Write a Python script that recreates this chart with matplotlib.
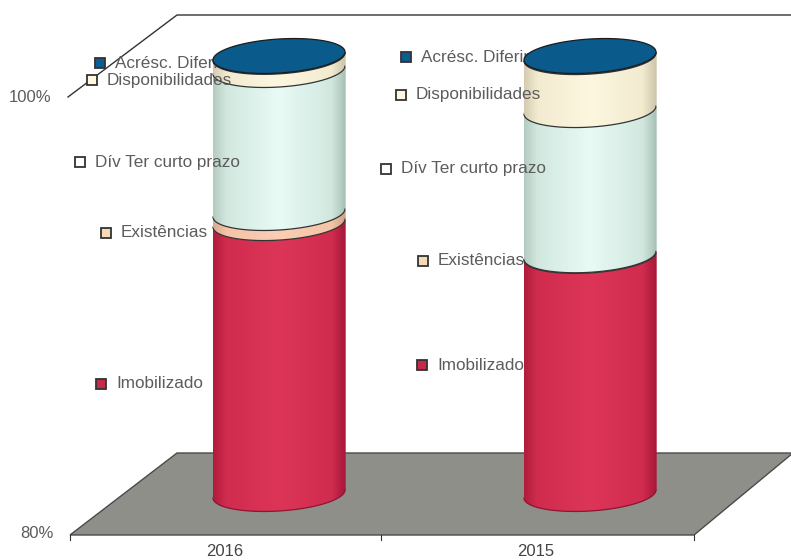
"""
Stacked cylinders, 80% to 100%, for 2016 and 2015
"""

import numpy as np
import matplotlib
matplotlib.use('Agg')
import matplotlib.pyplot as plt
from matplotlib.colors import LinearSegmentedColormap
from matplotlib.patches import Polygon

plt.rcParams['font.family'] = ['Liberation Sans', 'DejaVu Sans']

years = ['2016', '2015']
series_names = ['Imobilizado', 'Existências', 'Dív Ter curto prazo',
                'Disponibilidades', 'Acrésc. Diferim']
# Shares above the 80% baseline, percentage points
imobilizado = [12.37, 10.87]
existencias = [0.46, 0.03]
div_ter = [6.53, 6.63]
disponibilidades = [0.60, 2.42]
acresc = [0.04, 0.05]
series_values = [imobilizado, existencias, div_ter, disponibilidades, acresc]

side_colors = [
    ('#b01c3c', '#d02c4e', '#dc3558', '#d02c4e', '#a8183a'),
    ('#d8ab92', '#f4c4a8', '#fbcdb4', '#f4c4a8', '#d0a48c'),
    ('#b4cbc0', '#d2e8df', '#e8fbf5', '#d2e8df', '#a9c2b6'),
    ('#d4cbb0', '#f2ebd0', '#fdf7e0', '#f2ebd0', '#cfc6ac'),
    ('#0a4a75', '#0a5c8f', '#0a5c8f', '#0a5c8f', '#0a4a75'),
]
edge_colors = ['#8e1430', '#333333', '#333333', '#333333', '#333333']
marker_colors = ['#c8284a', '#f6d9b8', '#ffffff', '#fff8e0', '#0b5d92']

# Label positions in image pixels, per year then per series
label_pos = [
    [(97, 384), (102, 233), (76, 162), (88, 80), (96, 63)],
    [(418, 365), (419, 261), (382, 169), (397, 95), (402, 57)],
]

W, H = 791, 560
PX_X = 311.0            # pixels per category
PX_Y = 21.9             # pixels per percent
X0, Y0 = 279.0, 494.0   # pixel of first cylinder at 80%
HALF_W = 66 / PX_X
ELL_H = 17 / PX_Y
TILT = 4 / PX_Y
GREY = '#5c5c5c'


def to_data(px, py):
    return (px - X0) / PX_X, 80 + (Y0 - py) / PX_Y


def front_arc(cx, level, n=60):
    t = np.linspace(np.pi, 2 * np.pi, n)
    x = cx + HALF_W * np.cos(t)
    y = level + ELL_H * np.sin(t) + TILT * np.cos(t)
    return x, y


def draw_segment(ax, cx, low, high, colors, edge, z):
    x_low, y_low = front_arc(cx, low)
    x_high, y_high = front_arc(cx, high)
    xs = np.r_[x_low, x_high[::-1]]
    ys = np.r_[y_low, y_high[::-1]]
    patch = Polygon(np.c_[xs, ys], closed=True, fc='none', ec='none')
    ax.add_patch(patch)
    stops = list(zip((0, 0.1, 0.5, 0.9, 1), colors))
    cmap = LinearSegmentedColormap.from_list('side', stops)
    grad = np.linspace(0, 1, 256).reshape(1, -1)
    im = ax.imshow(grad, cmap=cmap, aspect='auto', zorder=z,
                   extent=(cx - HALF_W, cx + HALF_W, low - 2, high + 2))
    im.set_clip_path(patch)
    ax.plot(x_low, y_low, color=edge, lw=0.9, zorder=z + 0.1)
    ax.plot([cx - HALF_W, cx - HALF_W], [y_low[0], y_high[0]],
            color=colors[0], lw=0.5, zorder=z + 0.1)
    ax.plot([cx + HALF_W, cx + HALF_W], [y_low[-1], y_high[-1]],
            color=colors[-1], lw=0.5, zorder=z + 0.1)


def draw_top(ax, cx, level, color):
    t = np.linspace(0, 2 * np.pi, 120)
    x = cx + HALF_W * np.cos(t)
    y = level + ELL_H * np.sin(t) + TILT * np.cos(t)
    ax.fill(x, y, fc=color, ec='#1c1c1c', lw=0.9, zorder=6)


def main():
    fig = plt.figure(figsize=(W / 100, H / 100), dpi=100)
    ax = fig.add_axes([0, 0, 1, 1])
    ax.set_xlim(-X0 / PX_X, (W - X0) / PX_X)
    ax.set_ylim(80 + (Y0 - H) / PX_Y, 80 + Y0 / PX_Y)
    ax.axis('off')

    # Floor and back walls
    front_left = to_data(70, 535)
    front_right = to_data(694, 535)
    back_left = to_data(177, 453)
    back_right = to_data(793, 453)
    ax.add_patch(Polygon([front_left, front_right, back_right, back_left],
                         closed=True, fc='#8f8f8a', ec='#4a4a4a', lw=1.0, zorder=1))
    wall_low = to_data(68, 97)
    wall_mid = to_data(177, 15)
    wall_end = to_data(793, 15)
    ax.plot([wall_low[0], wall_mid[0], wall_end[0]],
            [wall_low[1], wall_mid[1], wall_end[1]],
            color='#333333', lw=1.0, zorder=1)

    # Axis ticks and labels
    for px in (70, 381, 694):
        a = to_data(px, 535)
        b = to_data(px, 540)
        ax.plot([a[0], b[0]], [a[1], b[1]], color='#333333', lw=0.8, zorder=1)
    ax.text(*to_data(37, 533), '80%', ha='center', va='center',
            fontsize=12, color=GREY)
    ax.text(*to_data(30, 97), '100%', ha='center', va='center',
            fontsize=12, color=GREY)

    # Cylinders
    for i, year in enumerate(years):
        level = 80.0
        for k, values in enumerate(series_values):
            draw_segment(ax, i, level, level + values[i], side_colors[k],
                         edge_colors[k], 3 + k * 0.2)
            level += values[i]
        draw_top(ax, i, level, '#0a5a8c')
        ax.text(*to_data(X0 + i * PX_X - 54, 552), year, ha='center', va='center',
                fontsize=12, color='#444444')

        for k, name in enumerate(series_names):
            px, py = label_pos[i][k]
            mx, my = to_data(px + 4, py)
            ax.plot([mx], [my], marker='s', ms=6.5, mfc=marker_colors[k],
                    mec='#333333', mew=1.3, ls='none', zorder=5)
            ax.text(*to_data(px + 19, py), name, ha='left', va='center',
                    fontsize=12.3, color=GREY, zorder=5)

    fig.savefig('out.png', dpi=100)


if __name__ == "__main__":
    main()
